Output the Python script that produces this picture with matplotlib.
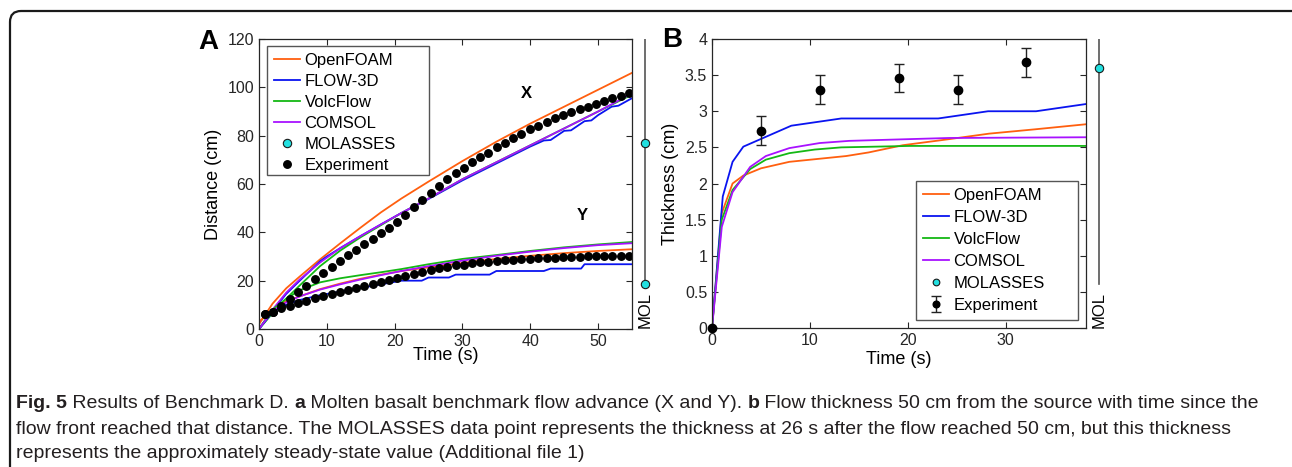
"""Benchmark D figure: flow advance (A) and thickness (B) with MOLASSES strip."""
import numpy as np
import matplotlib
matplotlib.use("Agg")
import matplotlib.pyplot as plt
from matplotlib.patches import FancyBboxPatch, Rectangle
from matplotlib.transforms import IdentityTransform

plt.rcParams.update({
    "font.family": ["Liberation Sans", "DejaVu Sans"],
    "axes.linewidth": 0.9,
    "axes.edgecolor": "#262626",
    "xtick.color": "#262626",
    "ytick.color": "#262626",
    "xtick.direction": "in",
    "ytick.direction": "in",
    "xtick.top": True,
    "ytick.right": True,
    "xtick.major.size": 4,
    "ytick.major.size": 4,
    "xtick.labelsize": 11.5,
    "ytick.labelsize": 11.5,
})

C_OF = "#ff5f0f"
C_F3 = "#0a14f0"
C_VF = "#14b814"
C_CO = "#a812ff"
C_MOL = "#22e0e0"

# ---------------- panel A: flow advance ----------------
# experiment (X and Y fronts), same time stamps
exp_t = [0.9, 2.1, 3.3, 4.5, 5.8, 7.0, 8.2, 9.4, 10.7, 11.9, 13.1, 14.3, 15.5,
         16.8, 18.0, 19.2, 20.4, 21.6, 22.9, 24.1, 25.3, 26.5, 27.7, 29.0,
         30.2, 31.4, 32.6, 33.8, 35.1, 36.3, 37.5, 38.7, 39.9, 41.2, 42.4,
         43.6, 44.8, 46.0, 47.3, 48.5, 49.7, 50.9, 52.1, 53.4, 54.6]
exp_x = [6.1, 6.9, 9.5, 12.6, 15.5, 17.8, 20.6, 23.1, 25.8, 28.3, 30.5, 32.7,
         35.2, 37.1, 39.6, 41.7, 44.4, 47.2, 50.4, 53.4, 56.4, 59.2, 62.0,
         64.5, 66.8, 68.9, 71.1, 73.0, 75.2, 76.9, 79.0, 80.7, 82.7, 84.1,
         85.6, 87.2, 88.6, 89.7, 90.9, 92.0, 93.2, 94.3, 95.4, 96.5, 97.6]
exp_y = [6.1, 6.9, 8.6, 9.7, 10.6, 11.7, 12.7, 13.7, 14.5, 15.3, 16.1, 17.1,
         17.8, 18.6, 19.5, 20.3, 21.3, 22.1, 22.9, 23.7, 24.4, 25.3, 25.8,
         26.4, 26.6, 27.2, 27.6, 27.9, 28.2, 28.6, 28.7, 28.8, 29.0, 29.3,
         29.5, 29.5, 29.7, 29.8, 29.9, 30.1, 30.1, 30.1, 30.1, 30.2, 30.2]

sim_t = [0, 2, 4, 6, 9, 12, 15, 18, 21, 25, 30, 35, 40, 45, 50, 55]
openfoam_x = [2, 10.5, 16.8, 21.7, 28.8, 35.5, 42, 48.3, 54, 61, 69.5, 77.5, 85, 92, 99, 106]
comsol_x = [0, 8, 15, 20.5, 27.5, 33.5, 38.5, 43.3, 48, 54, 62, 69, 76, 83, 90, 97.5]
volcflow_x = [0, 6.5, 12.5, 18, 26, 32.5, 38, 43, 48, 54, 62, 69, 76, 83, 90, 97]
openfoam_y = [3, 8, 11.5, 13.5, 16.5, 18.8, 20.8, 22.5, 24, 25.5, 27.3, 29, 30.3, 31.4, 32.3, 33]
comsol_y = [0, 7.5, 11, 13.5, 16.3, 18.5, 20.5, 22.3, 24, 26, 28.3, 30.3, 32, 33.5, 34.7, 35.5]
volcflow_y = [0, 8, 12.5, 16, 19.3, 21, 22.3, 23.5, 24.8, 26.8, 29, 30.6, 32.3, 33.8, 35, 36]

flow3d_x_t = [0, 2, 4, 6, 9, 10, 12, 15, 18, 21, 25, 30, 35, 40, 42, 43, 45, 46, 48, 49, 50, 52, 53, 55]
flow3d_x = [0, 7.5, 14.5, 20, 28, 30, 33.5, 38.5, 43.3, 48, 53.8, 61.5, 68.5, 75.5, 78, 78.2, 82, 82.2, 86, 86.3, 88.5, 92, 92.4, 95.5]
flow3d_y_t = [0, 2, 4, 6, 9, 12, 15, 18, 21, 24, 25, 28, 29, 34, 35, 42, 43, 47.5, 48, 55]
flow3d_y = [0, 7, 10, 12, 14, 15.5, 17, 18.5, 20, 20, 21.3, 21.3, 22.5, 22.5, 24, 24, 25, 25, 26.8, 26.8]

mol_a = [77, 18.6]

# ---------------- panel B: thickness ----------------
of_bt = [0, 1, 2.1, 3.2, 5, 7.9, 13.7, 16, 19.5, 24, 28.3, 33, 38.2]
of_bh = [0, 1.59, 2.0, 2.11, 2.21, 2.30, 2.38, 2.43, 2.53, 2.61, 2.69, 2.75, 2.82]
f3_bt = [0, 1.1, 2.1, 3.2, 8.1, 13.2, 23.1, 28.2, 33.1, 38.2]
f3_bh = [0, 1.82, 2.30, 2.51, 2.80, 2.90, 2.90, 3.0, 3.0, 3.10]
vf_bt = [0, 1, 2.1, 3.9, 5.5, 7.9, 10.5, 13.2, 20.2, 38.2]
vf_bh = [0, 1.5, 1.91, 2.2, 2.33, 2.42, 2.47, 2.50, 2.52, 2.52]
co_bt = [0, 1, 2.1, 3.9, 5.5, 7.9, 11, 14, 24.2, 38.2]
co_bh = [0, 1.4, 1.88, 2.23, 2.38, 2.49, 2.56, 2.59, 2.63, 2.64]
exp_bt = [0, 5, 11, 19.1, 25.1, 32.1]
exp_bh = [0, 2.73, 3.30, 3.46, 3.30, 3.68]
exp_berr = [0, 0.2, 0.2, 0.2, 0.2, 0.2]
mol_b = [3.6]

LABELS = ["OpenFOAM", "FLOW-3D", "VolcFlow", "COMSOL", "MOLASSES", "Experiment"]

W, H = 1292, 467
fig = plt.figure(figsize=(W / 100, H / 100), dpi=100)


def px_axes(x0, y_top, x1, y_bot):
    return fig.add_axes([x0 / W, 1 - y_bot / H, (x1 - x0) / W, (y_bot - y_top) / H])


def mol_strip(x, ylim, vals):
    m = px_axes(x - 12, 39, x + 12, 328.5)
    m.set_xlim(-1, 1)
    m.set_ylim(*ylim)
    m.axis("off")
    m.axvline(0, ymin=0.155, ymax=1, color="#555555", lw=1.2)
    h, = m.plot([0] * len(vals), vals, "o", ms=6, mfc=C_MOL, mec="#1a1a1a",
                mew=0.8, clip_on=False, zorder=3)
    m.text(0, 0.0, "MOL", rotation=90, ha="center", va="bottom",
           fontsize=12, transform=m.get_xaxis_transform())
    return h


def boxed_legend(handles, box, spacing, mscale):
    # MATLAB-style legend: frame wider than its entries
    x0, y0, x1, y1 = box
    fig.add_artist(Rectangle((x0, H - y1), x1 - x0, y1 - y0, transform=IdentityTransform(),
                             fill=True, facecolor="white", edgecolor="#555555",
                             lw=1.0, zorder=5))
    leg = fig.legend(handles, LABELS, loc="upper left",
                     bbox_to_anchor=(x0 / W, 1 - y0 / H), bbox_transform=fig.transFigure,
                     borderaxespad=0, fontsize=12, frameon=False,
                     handlelength=1.6, handletextpad=0.25, labelspacing=spacing,
                     borderpad=0.4, markerscale=mscale)
    leg.set_zorder(6)
    return leg


# --- A ---
ax = px_axes(259, 39, 632, 329)
ax.plot(sim_t, openfoam_x, color=C_OF, lw=1.3)
ax.plot(flow3d_x_t, flow3d_x, color=C_F3, lw=1.3)
ax.plot(sim_t, volcflow_x, color=C_VF, lw=1.3)
ax.plot(sim_t, comsol_x, color=C_CO, lw=1.3)
l_of, = ax.plot(sim_t, openfoam_y, color=C_OF, lw=1.3)
l_f3, = ax.plot(flow3d_y_t, flow3d_y, color=C_F3, lw=1.3)
l_vf, = ax.plot(sim_t, volcflow_y, color=C_VF, lw=1.3)
l_co, = ax.plot(sim_t, comsol_y, color=C_CO, lw=1.3)
l_ex, = ax.plot(exp_t, exp_x, "o", color="black", ms=5.4)
ax.plot(exp_t, exp_y, "o", color="black", ms=5.4)
ax.set_xlim(0, 55)
ax.set_ylim(0, 120)
ax.set_xticks([0, 10, 20, 30, 40, 50])
ax.set_yticks([0, 20, 40, 60, 80, 100, 120])
ax.set_xlabel("Time (s)", fontsize=13, labelpad=-1)
ax.set_ylabel("Distance (cm)", fontsize=13, labelpad=4)
ax.text(39.4, 97.5, "X", fontsize=12, fontweight="bold", ha="center", va="center")
ax.text(47.6, 46.8, "Y", fontsize=12, fontweight="bold", ha="center", va="center")
h_mol = mol_strip(645, (0, 120), mol_a)
boxed_legend([l_of, l_f3, l_vf, l_co, h_mol, l_ex], (267, 46, 429, 175), 0.36, 1.0)
fig.text(198 / W, 1 - 42 / H, "A", fontsize=20, fontweight="bold", va="center")

# --- B ---
bx = px_axes(712, 39, 1086, 328)
b_of, = bx.plot(of_bt, of_bh, color=C_OF, lw=1.3)
b_f3, = bx.plot(f3_bt, f3_bh, color=C_F3, lw=1.3)
b_vf, = bx.plot(vf_bt, vf_bh, color=C_VF, lw=1.3)
b_co, = bx.plot(co_bt, co_bh, color=C_CO, lw=1.3)
b_ex = bx.errorbar(exp_bt, exp_bh, yerr=exp_berr, fmt="o", color="black", ms=6,
                   ecolor="#222222", elinewidth=1.0, capsize=3.5, capthick=1.0,
                   zorder=4)
b_ex.lines[0].set_clip_on(False)
bx.set_xlim(0, 38.2)
bx.set_ylim(0, 4)
bx.set_xticks([0, 10, 20, 30])
bx.set_yticks([0, 0.5, 1, 1.5, 2, 2.5, 3, 3.5, 4])
bx.set_yticklabels(["0", "0.5", "1", "1.5", "2", "2.5", "3", "3.5", "4"])
bx.set_xlabel("Time (s)", fontsize=13, labelpad=2)
bx.set_ylabel("Thickness (cm)", fontsize=13, labelpad=4)
hb_mol = mol_strip(1099, (0, 4), mol_b)
boxed_legend([b_of, b_f3, b_vf, b_co, hb_mol, b_ex], (916, 181, 1078, 320), 0.42, 0.8)
fig.text(662 / W, 1 - 40 / H, "B", fontsize=20, fontweight="bold", va="center")

# --- caption ---
cap_font = ["Liberation Sans", "DejaVu Sans"]
cap_size = 14
cap_lines = [
    [("Fig. 5", True), (" Results of Benchmark D. ", False), ("a", True),
     (" Molten basalt benchmark flow advance (X and Y). ", False), ("b", True),
     (" Flow thickness 50 cm from the source with time since the", False)],
    [("flow front reached that distance. The MOLASSES data point represents the "
      "thickness at 26 s after the flow reached 50 cm, but this thickness", False)],
    [("represents the approximately steady-state value (Additional file 1)", False)],
]
cap_y = [404, 429, 453]
renderer = fig.canvas.get_renderer()
for segs, yy in zip(cap_lines, cap_y):
    x = 16
    for txt, bold in segs:
        t = fig.text(x / W, 1 - yy / H, txt, fontsize=cap_size, va="center",
                     family=cap_font, color="#231f20",
                     fontweight="bold" if bold else "normal")
        x += t.get_window_extent(renderer).width

frame = FancyBboxPatch((10, -30), 1320, H - 11 + 30,
                       boxstyle="round,pad=0,rounding_size=11",
                       transform=IdentityTransform(), fill=False,
                       edgecolor="#1a1a1a", lw=1.6)
fig.add_artist(frame)

fig.savefig("out.png", dpi=100)
